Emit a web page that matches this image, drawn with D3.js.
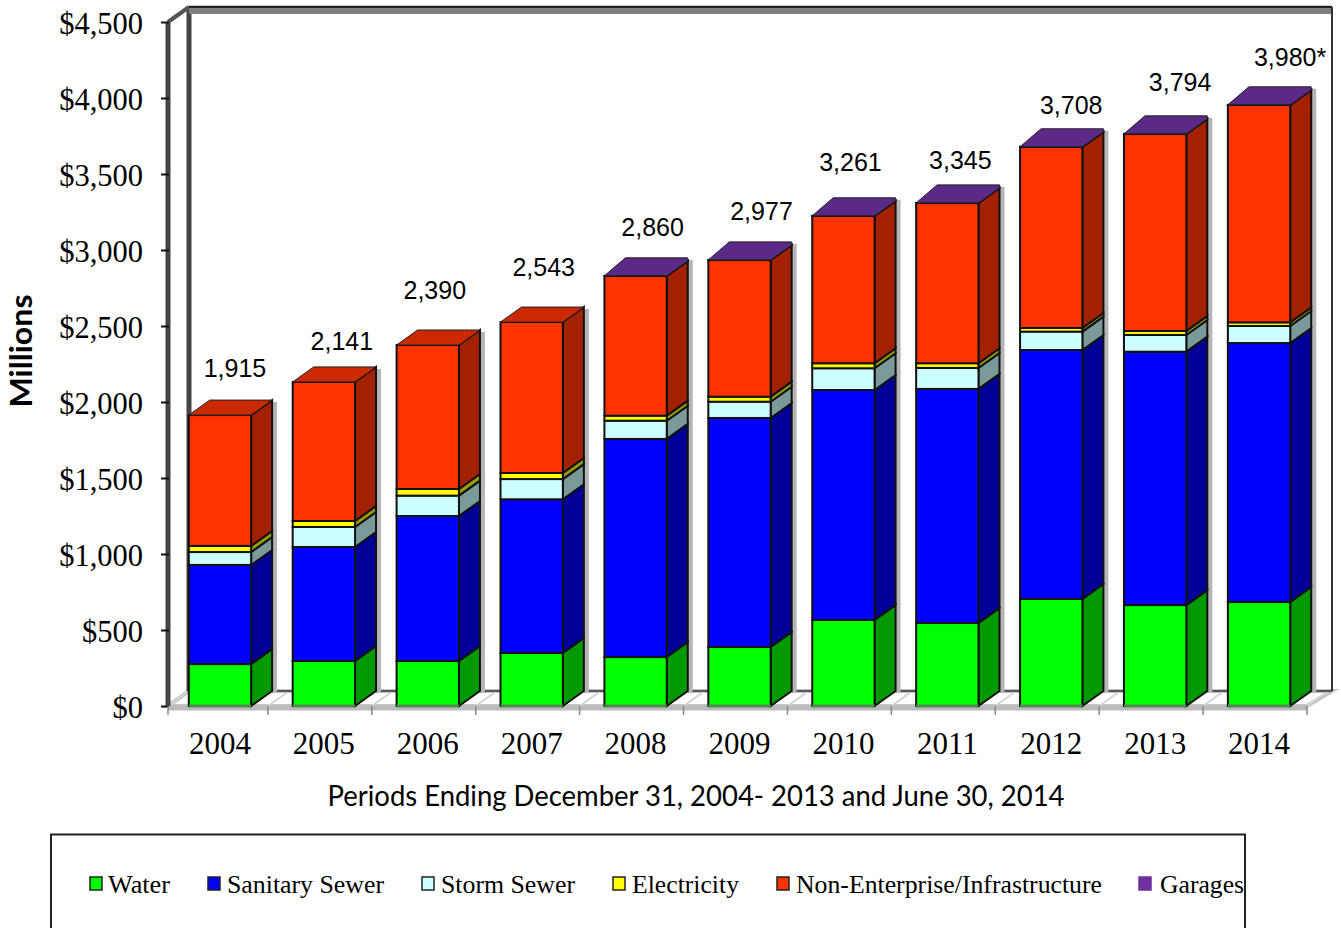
<!DOCTYPE html>
<html>
<head>
<meta charset="utf-8">
<script src="https://cdn.jsdelivr.net/npm/d3@7"></script>
<style>
  html, body { margin: 0; padding: 0; background: #fff; overflow: hidden; }
  .serif { font-family: "Liberation Serif", serif; }
  .sans { font-family: "Liberation Sans", sans-serif; }
</style>
</head>
<body>
<div id="chart-area"></div>
<script>
var years = ["2004","2005","2006","2007","2008","2009","2010","2011","2012","2013","2014"];
var totals = ["1,915","2,141","2,390","2,543","2,860","2,977","3,261","3,345","3,708","3,794","3,980*"];

// $ millions
var water    = [276, 296, 296, 349, 322, 388, 566, 546, 704, 664, 684];
var sanitary = [652, 750, 954, 1011, 1435, 1507, 1513, 1540, 1638, 1667, 1704];
var storm    = [85, 132, 134, 133, 120, 107, 143, 138, 121, 110, 112];
var electric = [40, 39, 44, 40, 33, 33, 33, 31, 24, 26, 24];
var nonEnt   = [861, 915, 947, 993, 919, 899, 969, 1054, 1191, 1296, 1430];
var garages  = [0, 0, 0, 0, 1, 1, 1, 1, 1, 1, 1];

var seriesNames = ["Water","Sanitary Sewer","Storm Sewer","Electricity","Non-Enterprise/Infrastructure","Garages"];
var seriesValues = [water, sanitary, storm, electric, nonEnt, garages];
var yTicks = [0,500,1000,1500,2000,2500,3000,3500,4000,4500];

// styling
var frontColors = ["#00ff00","#0000ff","#ccffff","#ffff00","#ff3300","#5b2a86"];
var sideColors  = ["#009900","#000099","#7a9999","#999900","#a32000","#5b2a86"];
var topColors   = ["#00cc00","#0000cc","#a3cccc","#cccc00","#cc2900","#5b2a86"];
var legendColors = ["#00ff00","#0000ff","#ccffff","#ffff00","#ff3300","#7030a0"];

// the total labels were placed by hand in the original
var labelDx = [15, 18, 7, 12, 17, 22, 7, 13, 20, 25, 31];
var labelDy = [38, 32, 46, 46, 40, 40, 45, 34, 33, 43, 39];

var width = 1341, height = 928;
var margin = { left: 168, right: 30, top: 22, bottom: 222 };
var depthX = 21, depthY = 15;

var svg = d3.select("#chart-area").append("svg")
    .attr("width", width)
    .attr("height", height);

var x = d3.scaleBand().domain(years)
    .range([margin.left, width - margin.right])
    .paddingInner(0.4).paddingOuter(0.2);
var y = d3.scaleLinear().domain([0, 4500])
    .range([height - margin.bottom, margin.top]);

var stepX = x.step();
var x0 = margin.left, xEnd = 1307, y0 = y(0), yTop = y(4500);
var backRight = xEnd + 25;
// separators between the categories, the first one sits on the wall
var sepX = d3.range(years.length + 1).map(function (i) {
    return i == 0 ? x0 : xEnd - (years.length - i) * stepX;
});

// floor, side wall and back wall
var wall = svg.append("g");
wall.append("path")
    .attr("d", `M${x0},${y0}L${xEnd},${y0}L${backRight},${y0-depthY}L${x0+depthX},${y0-depthY}Z`)
    .attr("fill", "#fff").attr("stroke", "#c4c4c4").attr("stroke-width", 4);
sepX.forEach(function (sx) {
    wall.append("line")
        .attr("x1", sx).attr("x2", sx + depthX).attr("y1", y0).attr("y2", y0 - depthY)
        .attr("stroke", "#d4d4d4").attr("stroke-width", 2);
});
wall.append("line")
    .attr("x1", x0 + depthX).attr("x2", backRight).attr("y1", y0 - depthY).attr("y2", y0 - depthY)
    .attr("stroke", "#555").attr("stroke-width", 2);
wall.append("line")
    .attr("x1", x0).attr("x2", xEnd).attr("y1", y0 + 2).attr("y2", y0 + 2)
    .attr("stroke", "#bbb").attr("stroke-width", 5);
wall.append("path")
    .attr("d", `M${x0},${yTop}L${x0+depthX},${yTop-depthY}L${backRight},${yTop-depthY}`)
    .attr("fill", "none").attr("stroke", "#999").attr("stroke-width", 3);
wall.append("line")
    .attr("x1", x0).attr("x2", x0).attr("y1", yTop).attr("y2", y0)
    .attr("stroke", "#444").attr("stroke-width", 5);
wall.append("line")
    .attr("x1", x0 + depthX).attr("x2", x0 + depthX).attr("y1", yTop - depthY).attr("y2", y0 - depthY)
    .attr("stroke", "#444").attr("stroke-width", 5);
wall.append("line")
    .attr("x1", x0).attr("x2", x0 + depthX).attr("y1", yTop).attr("y2", yTop - depthY)
    .attr("stroke", "#555").attr("stroke-width", 4);
wall.append("line")
    .attr("x1", x0 + depthX).attr("x2", backRight).attr("y1", yTop - depthY + 4).attr("y2", yTop - depthY + 4)
    .attr("stroke", "#808080").attr("stroke-width", 6);
wall.append("line")
    .attr("x1", x0 + depthX).attr("x2", backRight).attr("y1", yTop - depthY).attr("y2", yTop - depthY)
    .attr("stroke", "#222").attr("stroke-width", 2);
wall.append("line")
    .attr("x1", backRight).attr("x2", backRight).attr("y1", yTop - depthY).attr("y2", y0 - depthY)
    .attr("stroke", "#333").attr("stroke-width", 2);

// stacks
var stack = d3.stack().keys(d3.range(seriesNames.length))
    .value(function (d, k) { return seriesValues[k][d]; });
var layers = stack(d3.range(years.length));

var bars = svg.append("g");
years.forEach(function (yr, i) {
    var bx = x(yr), bw = x.bandwidth();
    var g = bars.append("g");
    var last = 0;
    layers.forEach(function (layer, k) { if (layer[i][1] > layer[i][0]) last = k; });
    var tot = layers[last][i][1];
    // the garages lid stands a little higher than a plain top
    var lift = last == 5 ? 3 : 0;
    // soft shadow at the right of the bar
    g.append("rect")
        .attr("x", bx + bw + depthX).attr("y", y(tot) - depthY - lift + 2)
        .attr("width", 5).attr("height", y(0) - y(tot) + lift)
        .attr("fill", "#b5b5b5");
    layers.forEach(function (layer, k) {
        var a = layer[i][0], b = layer[i][1];
        if (b <= a) return;
        g.append("path")
            .attr("d", `M${bx+bw},${y(a)}L${bx+bw+depthX},${y(a)-depthY}L${bx+bw+depthX},${y(b)-depthY}L${bx+bw},${y(b)}Z`)
            .attr("fill", sideColors[k]).attr("stroke", "#111").attr("stroke-width", 2);
        g.append("rect")
            .attr("x", bx).attr("y", y(b))
            .attr("width", bw).attr("height", y(a) - y(b))
            .attr("fill", frontColors[k]).attr("stroke", "#111").attr("stroke-width", 2);
    });
    g.append("path")
        .attr("d", `M${bx},${y(tot)}L${bx+depthX},${y(tot)-depthY-lift}L${bx+bw+depthX},${y(tot)-depthY-lift}L${bx+bw+depthX},${y(tot)-depthY}L${bx+bw},${y(tot)}Z`)
        .attr("fill", topColors[last]).attr("stroke", "#222").attr("stroke-width", 1);
    g.append("line")
        .attr("x1", bx).attr("x2", bx + bw).attr("y1", y(0)).attr("y2", y(0))
        .attr("stroke", "#4f8a4f").attr("stroke-width", 3);
    // total label
    svg.append("text").attr("class", "sans")
        .attr("x", bx + bw / 2 + labelDx[i]).attr("y", y(tot) - labelDy[i])
        .attr("text-anchor", "middle").attr("font-size", 25).attr("fill", "#000")
        .text(totals[i]);
});

// axes
var yAxis = d3.axisLeft(y).tickValues(yTicks).tickSize(8).tickSizeOuter(0)
    .tickFormat(function (d) { return "$" + d3.format(",")(d); });
var yG = svg.append("g").attr("transform", `translate(${x0 + 1},0)`).call(yAxis);
yG.select(".domain").remove();
yG.selectAll("line").attr("stroke", "#111").attr("stroke-width", 2);
yG.selectAll("text").attr("class", "serif").attr("font-size", 30.5).attr("fill", "#000")
    .attr("x", -26).attr("dy", "0.37em");

var xAxis = d3.axisBottom(x).tickSize(0);
var xG = svg.append("g").attr("transform", `translate(0,${y0})`).call(xAxis);
xG.select(".domain").remove();
xG.selectAll("text").attr("class", "serif").attr("font-size", 31).attr("fill", "#000").attr("y", 26);

sepX.forEach(function (sx) {
    xG.append("line")
        .attr("x1", sx).attr("x2", sx)
        .attr("y1", 0).attr("y2", 9)
        .attr("stroke", "#888").attr("stroke-width", 1.5);
});

svg.append("text").attr("font-family", "Lato, sans-serif")
    .attr("x", 696).attr("y", 806).attr("text-anchor", "middle")
    .attr("font-size", 28).attr("fill", "#000")
    .attr("textLength", 737).attr("lengthAdjust", "spacingAndGlyphs")
    .text("Periods Ending December 31, 2004- 2013 and June 30, 2014");

svg.append("text").attr("font-family", "Lato, sans-serif")
    .attr("transform", "translate(32,351) rotate(-90)")
    .attr("text-anchor", "middle").attr("font-size", 30).attr("font-weight", "bold").attr("fill", "#000")
    .attr("textLength", 113).attr("lengthAdjust", "spacingAndGlyphs")
    .text("Millions");

// legend
svg.append("rect")
    .attr("x", 51).attr("y", 834.5).attr("width", 1194).attr("height", 140)
    .attr("fill", "#fff").attr("stroke", "#222").attr("stroke-width", 2);
var legendSwatchX = [90, 208, 422, 613, 777, 1139];
var legendTextX = [108, 227, 441, 632, 796, 1160];
var legendTextW = [62, 157, 134, 107, 306, 84];
seriesNames.forEach(function (n, k) {
    svg.append("rect")
        .attr("x", legendSwatchX[k]).attr("y", 877).attr("width", 12).attr("height", 13)
        .attr("fill", legendColors[k]).attr("stroke", k < 5 ? "#222" : legendColors[k]).attr("stroke-width", 1.5);
    svg.append("text").attr("class", "serif")
        .attr("x", legendTextX[k]).attr("y", 893)
        .attr("font-size", 26).attr("fill", "#000")
        .attr("textLength", legendTextW[k]).attr("lengthAdjust", "spacingAndGlyphs")
        .text(n);
});
</script>
</body>
</html>
